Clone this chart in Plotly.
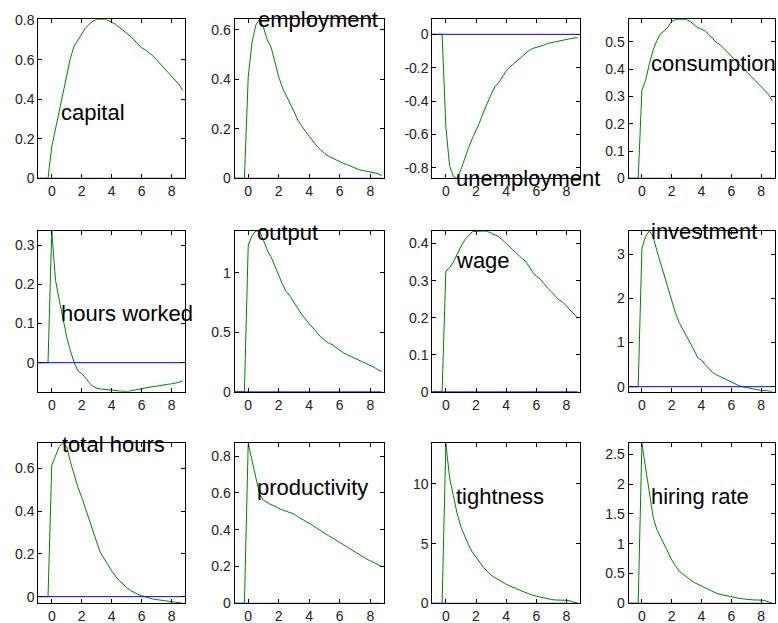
import plotly.graph_objects as go

# time axis (years, quarterly steps)
pre_t = [-1.0, -0.75, -0.5, -0.25]
post_t = [0.0, 0.25, 0.5, 0.75, 1.0, 1.25, 1.5, 1.75, 2.0, 2.25, 2.5, 2.75,
          3.0, 3.25, 3.5, 3.75, 4.0, 4.25, 4.5, 4.75, 5.0, 5.25, 5.5, 5.75,
          6.0, 6.25, 6.5, 6.75, 7.0, 7.25, 7.5, 7.75, 8.0, 8.25, 8.5, 8.75]
pre_zero = [0.0, 0.0, 0.0, 0.0]

capital = [0.16, 0.25, 0.34, 0.44, 0.53, 0.61, 0.67, 0.70, 0.73, 0.76, 0.78, 0.795,
           0.805, 0.805, 0.805, 0.80, 0.79, 0.78, 0.765, 0.75, 0.735, 0.72, 0.70, 0.68,
           0.66, 0.65, 0.635, 0.62, 0.60, 0.58, 0.555, 0.535, 0.52, 0.50, 0.475, 0.445]
employment = [0.41, 0.55, 0.62, 0.645, 0.61, 0.56, 0.53, 0.47, 0.41, 0.365, 0.335, 0.30,
              0.27, 0.235, 0.21, 0.19, 0.17, 0.15, 0.13, 0.115, 0.10, 0.09, 0.082, 0.075,
              0.068, 0.06, 0.055, 0.048, 0.04, 0.035, 0.032, 0.029, 0.025, 0.022, 0.019, 0.01]
unemployment = [-0.555, -0.79, -0.85, -0.862, -0.81, -0.74, -0.68, -0.625, -0.58, -0.525, -0.465, -0.41,
                -0.36, -0.315, -0.29, -0.255, -0.22, -0.195, -0.175, -0.155, -0.135, -0.115, -0.098, -0.085,
                -0.078, -0.074, -0.065, -0.055, -0.05, -0.045, -0.037, -0.034, -0.03, -0.026, -0.022, -0.02]
consumption = [0.323, 0.36, 0.42, 0.47, 0.505, 0.53, 0.54, 0.555, 0.575, 0.582, 0.583, 0.583,
               0.582, 0.575, 0.565, 0.552, 0.547, 0.54, 0.527, 0.512, 0.498, 0.49, 0.476, 0.462,
               0.448, 0.435, 0.421, 0.408, 0.394, 0.38, 0.366, 0.352, 0.338, 0.323, 0.308, 0.283]
hours_worked = [0.336, 0.21, 0.16, 0.11, 0.065, 0.03, 0.0, -0.021, -0.028, -0.038, -0.051, -0.06,
                -0.065, -0.067, -0.068, -0.069, -0.07, -0.071, -0.072, -0.073, -0.074, -0.072, -0.07, -0.069,
                -0.067, -0.065, -0.063, -0.061, -0.06, -0.058, -0.056, -0.055, -0.054, -0.052, -0.05, -0.046]
output = [1.23, 1.31, 1.35, 1.35, 1.27, 1.19, 1.13, 1.06, 0.98, 0.90, 0.84, 0.80,
          0.745, 0.70, 0.65, 0.605, 0.57, 0.535, 0.50, 0.46, 0.435, 0.41, 0.395, 0.37,
          0.345, 0.325, 0.31, 0.295, 0.278, 0.262, 0.246, 0.235, 0.222, 0.205, 0.185, 0.17]
wage = [0.326, 0.335, 0.35, 0.372, 0.392, 0.41, 0.422, 0.432, 0.433, 0.434, 0.434, 0.433,
        0.428, 0.424, 0.419, 0.41, 0.40, 0.39, 0.38, 0.372, 0.362, 0.353, 0.34, 0.323,
        0.312, 0.305, 0.292, 0.28, 0.27, 0.258, 0.248, 0.242, 0.232, 0.222, 0.21, 0.198]
investment = [3.13, 3.4, 3.52, 3.4, 3.08, 2.8, 2.55, 2.25, 1.95, 1.67, 1.45, 1.3,
              1.12, 0.97, 0.83, 0.65, 0.6, 0.5, 0.4, 0.32, 0.27, 0.23, 0.18, 0.14,
              0.095, 0.06, 0.025, 0.0, -0.02, -0.035, -0.045, -0.07, -0.08, -0.085, -0.095, -0.113]
total_hours = [0.615, 0.66, 0.70, 0.717, 0.70, 0.63, 0.57, 0.51, 0.465, 0.41, 0.36, 0.31,
               0.255, 0.205, 0.18, 0.15, 0.12, 0.095, 0.075, 0.06, 0.042, 0.03, 0.018, 0.01,
               0.005, -0.002, -0.006, -0.011, -0.014, -0.016, -0.02, -0.023, -0.025, -0.026, -0.028, -0.031]
productivity = [0.869, 0.77, 0.67, 0.59, 0.56, 0.545, 0.535, 0.528, 0.515, 0.507, 0.499, 0.492,
                0.485, 0.47, 0.458, 0.447, 0.437, 0.422, 0.407, 0.393, 0.381, 0.368, 0.356, 0.343,
                0.33, 0.317, 0.304, 0.29, 0.277, 0.264, 0.252, 0.241, 0.231, 0.22, 0.21, 0.2]
tightness = [13.4, 10.5, 9.0, 7.5, 6.4, 5.6, 4.9, 4.3, 3.9, 3.45, 3.0, 2.65,
             2.35, 2.15, 1.95, 1.75, 1.6, 1.45, 1.3, 1.18, 1.05, 0.92, 0.78, 0.68,
             0.6, 0.52, 0.45, 0.38, 0.32, 0.28, 0.28, 0.27, 0.25, 0.2, 0.1, 0.0]
hiring_rate = [2.685, 2.25, 1.82, 1.45, 1.24, 1.11, 0.98, 0.85, 0.73, 0.63, 0.54, 0.49,
               0.44, 0.39, 0.35, 0.32, 0.29, 0.255, 0.225, 0.195, 0.17, 0.15, 0.135, 0.12,
               0.105, 0.09, 0.084, 0.075, 0.065, 0.058, 0.056, 0.056, 0.052, 0.045, 0.025, 0.0]

labels = ["capital", "employment", "unemployment", "consumption",
          "hours worked", "output", "wage", "investment",
          "total hours", "productivity", "tightness", "hiring rate"]
series = [capital, employment, unemployment, consumption,
          hours_worked, output, wage, investment,
          total_hours, productivity, tightness, hiring_rate]

x_ticks = [0, 2, 4, 6, 8]
y_ticks = [
    [0, 0.2, 0.4, 0.6, 0.8],
    [0, 0.2, 0.4, 0.6],
    [0, -0.2, -0.4, -0.6, -0.8],
    [0, 0.1, 0.2, 0.3, 0.4, 0.5],
    [0, 0.1, 0.2, 0.3],
    [0, 0.5, 1],
    [0, 0.1, 0.2, 0.3, 0.4],
    [0, 1, 2, 3],
    [0, 0.2, 0.4, 0.6],
    [0, 0.2, 0.4, 0.6, 0.8],
    [0, 5, 10],
    [0, 0.5, 1, 1.5, 2, 2.5],
]
y_ticktext = [[("%g" % v) for v in tv] for tv in y_ticks]

# layout (pixels in the screenshot; page body margin removed below)
OFF = 0
W, H = 778, 623
y_ranges = [[0, 0.805], [0, 0.643], [-0.862, 0.09], [0, 0.583],
            [-0.074, 0.336], [0, 1.35], [0, 0.434], [-0.113, 3.52],
            [-0.031, 0.717], [0, 0.869], [0, 13.4], [0, 2.685]]
col_px = [(38.3, 185.0), (234.5, 384.0), (432.3, 580.0), (628.5, 774.5)]
row_px = [(19.3, 178.3), (231.0, 391.7), (443.3, 603.3)]
label_px = [(59, 113), (256, 20), (454, 178), (649, 63),
            (59, 313), (255, 232), (454, 260), (649, 231),
            (60, 444), (255, 487), (454, 497), (649, 497)]


def px_x(p):
    return (p - OFF) / W


def px_y(p):
    return 1 - (p - OFF) / H


t_all = pre_t + post_t
fig = go.Figure()
layout = dict(width=W, height=H, margin=dict(l=0, r=0, t=0, b=0, autoexpand=False),
              template="none",
              paper_bgcolor="white", plot_bgcolor="white", showlegend=False,
              font=dict(family="Liberation Sans, Arial, sans-serif", size=13, color="#222"))
annotations = []
for i, (name, vals) in enumerate(zip(labels, series)):
    r, c = divmod(i, 4)
    k = "" if i == 0 else str(i + 1)
    xa, ya = "x" + k, "y" + k
    fig.add_trace(go.Scatter(x=t_all, y=pre_zero + vals, mode="lines",
                             line=dict(color="#008000", width=1), xaxis=xa, yaxis=ya,
                             hoverinfo="skip"))
    fig.add_trace(go.Scatter(x=t_all, y=[0.0] * len(t_all), mode="lines",
                             line=dict(color="#0000ff", width=1), xaxis=xa, yaxis=ya,
                             hoverinfo="skip"))
    l, rr = col_px[c]
    top, bot = row_px[r]
    common = dict(showgrid=False, zeroline=False, showline=True, linecolor="black",
                  linewidth=1, mirror="ticks", ticks="inside", ticklen=4,
                  tickcolor="black", automargin=False,
                  tickfont=dict(size=14, color="#222"))
    layout["xaxis" + k] = dict(domain=[px_x(l), px_x(rr)], anchor=ya, range=[-0.9, 8.9],
                               tickvals=x_ticks, **common)
    layout["yaxis" + k] = dict(domain=[px_y(bot), px_y(top)], anchor=xa,
                               range=y_ranges[i], tickvals=y_ticks[i],
                               ticktext=y_ticktext[i], **common)
    lx, ly = label_px[i]
    annotations.append(dict(x=px_x(lx), y=px_y(ly), xref="paper", yref="paper",
                            text=name, showarrow=False, xanchor="left", yanchor="middle",
                            font=dict(size=22, color="black",
                                      family="Liberation Sans, Arial, sans-serif")))
layout["annotations"] = annotations
fig.update_layout(**layout)
fig.write_html("out.html", config={"displayModeBar": False},
               post_script="document.body.style.margin='0';document.body.style.overflow='hidden';")
